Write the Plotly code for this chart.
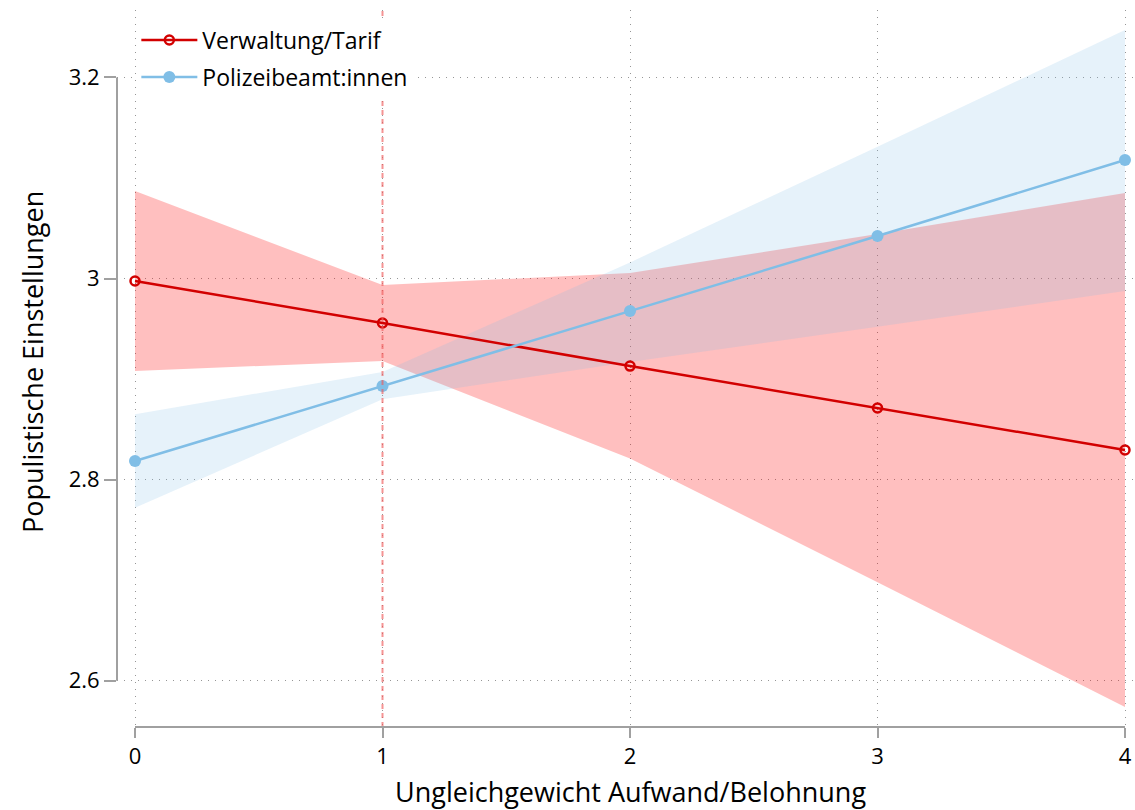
import plotly.graph_objects as go

# Predicted populism by effort/reward imbalance, two occupational groups
x_vals = [0, 1, 2, 3, 4]

verwaltung_mean = [2.9975, 2.9557, 2.9129, 2.8712, 2.8294]
verwaltung_upper = [3.087, 2.9935, 3.0054, 3.0442, 3.085]
verwaltung_lower = [2.908, 2.918, 2.821, 2.698, 2.574]

polizei_mean = [2.8185, 2.8931, 2.9676, 3.0422, 3.1178]
polizei_upper = [2.865, 2.907, 3.016, 3.131, 3.247]
polizei_lower = [2.772, 2.880, 2.917, 2.952, 2.9875]

y_ticks = [2.6, 2.8, 3.0, 3.2]
y_tick_labels = ["2.6", "2.8", "3", "3.2"]

RED = "rgb(210,0,0)"
BLUE = "rgb(128,190,230)"
AXIS_GREY = "rgb(160,160,160)"
FONT = "Open Sans"

fig = go.Figure()

# confidence bands
fig.add_trace(go.Scatter(
    x=x_vals + x_vals[::-1],
    y=verwaltung_upper + verwaltung_lower[::-1],
    fill="toself", fillcolor="rgba(255,0,0,0.25)",
    line=dict(width=0), mode="lines", hoverinfo="skip", showlegend=False,
))
fig.add_trace(go.Scatter(
    x=x_vals + x_vals[::-1],
    y=polizei_upper + polizei_lower[::-1],
    fill="toself", fillcolor="rgba(128,190,230,0.2)",
    line=dict(width=0), mode="lines", hoverinfo="skip", showlegend=False,
))

# point estimates
fig.add_trace(go.Scatter(
    x=x_vals, y=verwaltung_mean, name="Verwaltung/Tarif", legendgroup="a",
    mode="lines+markers",
    line=dict(color=RED, width=2.5),
    marker=dict(symbol="circle-open", size=9, color=RED, line=dict(width=2.5, color=RED)),
))
fig.add_trace(go.Scatter(
    x=x_vals, y=polizei_mean, name="Polizeibeamt:innen", legendgroup="b",
    mode="lines+markers",
    line=dict(color=BLUE, width=2.5),
    marker=dict(symbol="circle", size=12, color=BLUE),
))

# reference line at x = 1
fig.add_shape(type="line", xref="x", yref="paper", x0=1, x1=1, y0=0, y1=1,
              line=dict(color="rgba(240,90,90,0.65)", width=2, dash="5px,4px"), layer="above")

# axis lines limited to the tick span
fig.add_shape(type="line", xref="paper", yref="y", x0=0, x1=0, y0=2.6, y1=3.2,
              line=dict(color=AXIS_GREY, width=2))
fig.add_shape(type="line", xref="x", yref="paper", x0=0, x1=4, y0=0, y1=0,
              line=dict(color=AXIS_GREY, width=2))

grid = dict(showgrid=True, gridcolor="rgb(150,150,150)", griddash="1px,6px", gridwidth=1)

fig.update_layout(
    width=1135, height=810,
    margin=dict(l=117, r=0, t=10, b=83),
    paper_bgcolor="white", plot_bgcolor="white",
    font=dict(family=FONT, color="black"),
    showlegend=True,
    legend=dict(
        x=0.019, y=0.988, xanchor="left", yanchor="top",
        bgcolor="white", font=dict(size=23, family=FONT),
        tracegroupgap=4, itemwidth=56,
    ),
    xaxis=dict(
        range=[-18 / 247.5, 4 + 10 / 247.5],
        tickvals=x_vals, ticktext=[str(v) for v in x_vals],
        ticks="outside", ticklen=10, tickwidth=2, tickcolor=AXIS_GREY,
        tickfont=dict(size=22), showline=False, zeroline=False, **grid,
    ),
    yaxis=dict(
        range=[2.554, 3.267],
        tickvals=y_ticks, ticktext=y_tick_labels,
        ticks="outside", ticklen=12, tickwidth=2, tickcolor=AXIS_GREY,
        tickfont=dict(size=22), showline=False, zeroline=False, **grid,
    ),
    annotations=[
        dict(text="Ungleichgewicht Aufwand/Belohnung", xref="x", yref="paper",
             x=2, y=0, yshift=-64, xanchor="center", yanchor="middle",
             showarrow=False, font=dict(size=27, family=FONT)),
        dict(text="Populistische Einstellungen", xref="paper", yref="y",
             x=0, xshift=-84, y=2.917, xanchor="center", yanchor="middle",
             textangle=-90, showarrow=False, font=dict(size=27, family=FONT)),
    ],
)

fig.write_html("out.html")
